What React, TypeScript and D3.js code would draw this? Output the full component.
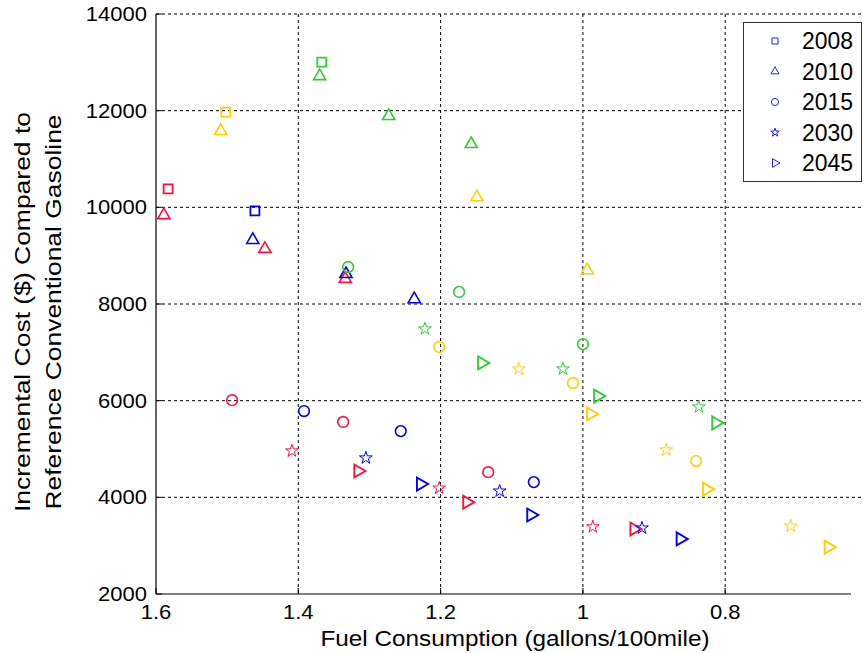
import React from 'react';
import * as d3 from 'd3';

// legend entries (marker = year)
const years = ['2008', '2010', '2015', '2030', '2045'];

// fuel consumption (gallons/100mile) per year, one array per colour group
const redFuel = [[1.583], [1.589, 1.447, 1.334], [1.493, 1.337, 1.133], [1.409, 1.202, 0.986], [1.316, 1.163, 0.928]];
const redCost = [[10380], [9840, 9140, 8520], [6010, 5560, 4520], [4960, 4190, 3390], [4545, 3900, 3345]];

const yellowFuel = [[1.502], [1.509, 1.149, 0.994], [1.202, 1.014, 0.841], [1.090, 0.883, 0.708], [0.989, 0.826, 0.655]];
const yellowCost = [[11970], [11580, 10210, 8700], [7110, 6365, 4750], [6655, 4980, 3405], [5725, 4170, 2970]];

const blueFuel = [[1.461], [1.464, 1.333, 1.237], [1.392, 1.256, 1.069], [1.305, 1.117, 0.917], [1.228, 1.073, 0.863]];
const blueCost = [[9925], [9325, 8620, 8100], [5785, 5370, 4315], [4815, 4130, 3365], [4275, 3635, 3140]];

const greenFuel = [[1.367], [1.370, 1.273, 1.157], [1.330, 1.174, 1.000], [1.222, 1.028, 0.837], [1.142, 0.979, 0.813]];
const greenCost = [[13005], [12715, 11890, 11310], [8765, 8250, 7170], [7485, 6655, 5870], [6780, 6095, 5540]];

const xTicks = [1.6, 1.4, 1.2, 1, 0.8];
const yTicks = [2000, 4000, 6000, 8000, 10000, 12000, 14000];

const groups = [
  { color: '#ff1040', fuel: redFuel, cost: redCost },
  { color: '#ffd000', fuel: yellowFuel, cost: yellowCost },
  { color: '#0000ff', fuel: blueFuel, cost: blueCost },
  { color: '#33cc33', fuel: greenFuel, cost: greenCost },
];

const W = 864;
const H = 653;
const left = 156, bottom = 594, top = 14;
const font = 'Arial, "Liberation Sans", sans-serif';

// marker per year index: square, triangle up, circle, star, triangle right
const symbolFor = (i: number, small = false) => {
  const k = small ? 0.45 : 1;
  const types = [d3.symbolSquare, d3.symbolTriangle, d3.symbolCircle, d3.symbolStar, d3.symbolTriangle];
  const sizes = [81, 64, 90, 50, 72];
  return d3.symbol().type(types[i]).size(sizes[i] * k)() as string;
};
const markerStroke = [1.8, 1.6, 1.6, 1, 1.9];

export default function App() {
  const x = d3.scaleLinear().domain([1.6, 0.6]).range([left, 867.5]);
  const y = d3.scaleLinear().domain([2000, 14000]).range([bottom, top]);

  const points: { px: number; py: number; yi: number; color: string; key: string }[] = [];
  groups.forEach((g, gi) => {
    g.fuel.forEach((row, yi) => {
      row.forEach((f, j) => {
        points.push({ px: x(f), py: y(g.cost[yi][j]), yi, color: g.color, key: `${gi}-${yi}-${j}` });
      });
    });
  });

  return (
    <svg width={W} height={H} style={{ position: 'absolute', left: 0, top: 0, background: '#fff' }} fontFamily={font}>
      {/* grid */}
      {yTicks.filter(t => t > 2000).map(t => (
        <line key={'gy' + t} x1={left} x2={W} y1={y(t)} y2={y(t)} stroke="#000" strokeWidth={1} strokeDasharray="3,3" />
      ))}
      {xTicks.filter(t => t < 1.6).map(t => (
        <line key={'gx' + t} x1={x(t)} x2={x(t)} y1={top} y2={bottom} stroke="#000" strokeWidth={1} strokeDasharray="3,3" />
      ))}
      {/* axes */}
      <line x1={left} x2={left} y1={top} y2={bottom} stroke="#000" strokeWidth={1.2} />
      <line x1={left} x2={851} y1={bottom} y2={bottom} stroke="#000" strokeWidth={1.2} />
      {yTicks.map(t => (
        <line key={'ty' + t} x1={left} x2={left + 6} y1={y(t)} y2={y(t)} stroke="#000" strokeWidth={1} />
      ))}
      {xTicks.map(t => (
        <line key={'tx' + t} x1={x(t)} x2={x(t)} y1={bottom} y2={bottom - 6} stroke="#000" strokeWidth={1} />
      ))}
      {/* tick labels */}
      {yTicks.map(t => (
        <text key={'ly' + t} transform={`translate(147,${y(t) + 7}) scale(1.1,1)`} textAnchor="end" fontSize={20} fill="#000">
          {t}
        </text>
      ))}
      {xTicks.map(t => (
        <text key={'lx' + t} transform={`translate(${x(t)},619) scale(1.1,1)`} textAnchor="middle" fontSize={20} fill="#000">
          {d3.format('~g')(t)}
        </text>
      ))}
      {/* axis titles */}
      <text x={515} y={646} textAnchor="middle" fontSize={22} textLength={389} lengthAdjust="spacingAndGlyphs">
        Fuel Consumption (gallons/100mile)
      </text>
      <g transform="translate(30,312) rotate(-90)">
        <text x={0} y={0} textAnchor="middle" fontSize={22} textLength={400} lengthAdjust="spacingAndGlyphs">
          Incremental Cost ($) Compared to
        </text>
        <text x={0} y={31} textAnchor="middle" fontSize={22} textLength={395} lengthAdjust="spacingAndGlyphs">
          Reference Conventional Gasoline
        </text>
      </g>
      {/* markers */}
      {points.map(p => (
        <path
          key={p.key}
          d={symbolFor(p.yi)}
          transform={`translate(${p.px},${p.py})${p.yi === 4 ? ' rotate(90)' : ''}`}
          fill="none"
          stroke={p.color}
          strokeWidth={markerStroke[p.yi]}
        />
      ))}
      {/* legend */}
      <rect x={743.5} y={22.5} width={118} height={159} fill="#fff" stroke="#333" strokeWidth={1} />
      {years.map((yr, i) => (
        <g key={yr} transform={`translate(0,${41 + i * 30.5})`}>
          <path
            d={symbolFor(i, true)}
            transform={`translate(775,0)${i === 4 ? ' rotate(90)' : ''}`}
            fill="none"
            stroke="#2020ff"
            strokeWidth={1}
          />
          <text x={802} y={8} fontSize={23} textLength={51} lengthAdjust="spacingAndGlyphs" fill="#000">
            {yr}
          </text>
        </g>
      ))}
    </svg>
  );
}
